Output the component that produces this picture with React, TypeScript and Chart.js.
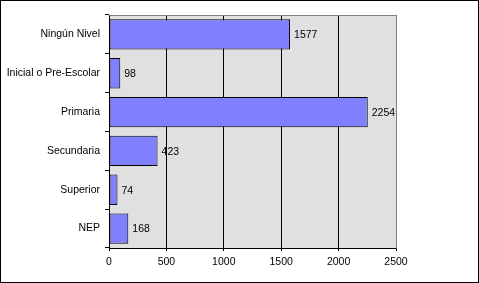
import React, { useEffect, useRef } from "react";
import { Chart, registerables } from "chart.js";

Chart.register(...registerables);

const categories = ["Ningún Nivel", "Inicial o Pre-Escolar", "Primaria", "Secundaria", "Superior", "NEP"];
const values = [1577, 98, 2254, 423, 74, 168];
const xMin = 0;
const xMax = 2500;
const xStep = 500;

const FONT = "'Liberation Sans', Arial, sans-serif";
const FSIZE = 10.5;

export default function App() {
  const ref = useRef<HTMLCanvasElement | null>(null);

  useEffect(() => {
    document.body.style.margin = "0";
    const canvas = ref.current;
    if (!canvas) return;

    const framePlugin = {
      id: "frame",
      beforeDraw(chart: any) {
        const ctx = chart.ctx;
        const a = chart.chartArea;
        ctx.save();
        ctx.fillStyle = "#ffffff";
        ctx.fillRect(0, 0, chart.width, chart.height);
        ctx.fillStyle = "#E0E0E0";
        ctx.fillRect(a.left, a.top, a.right - a.left, a.bottom - a.top);
        ctx.restore();
      },
      afterDraw(chart: any) {
        const ctx = chart.ctx;
        const a = chart.chartArea;
        ctx.save();
        ctx.strokeStyle = "#808080";
        ctx.lineWidth = 1;
        ctx.beginPath();
        ctx.moveTo(Math.round(a.left) + 0.5, Math.round(a.top) + 0.5);
        ctx.lineTo(Math.round(a.right) + 0.5, Math.round(a.top) + 0.5);
        ctx.lineTo(Math.round(a.right) + 0.5, Math.round(a.bottom) + 0.5);
        ctx.stroke();
        ctx.strokeStyle = "#000000";
        ctx.strokeRect(0.5, 0.5, chart.width - 1, chart.height - 1);
        ctx.restore();
      },
      afterDatasetsDraw(chart: any) {
        const ctx = chart.ctx;
        const meta = chart.getDatasetMeta(0);
        ctx.save();
        ctx.fillStyle = "#000000";
        ctx.font = `${FSIZE}px ${FONT}`;
        ctx.textAlign = "left";
        ctx.textBaseline = "middle";
        meta.data.forEach((bar: any, i: number) => {
          ctx.fillText(String(values[i]), bar.x + 4, bar.y + 1);
        });
        ctx.restore();
      },
    };

    const chart = new Chart(canvas, {
      type: "bar",
      data: {
        labels: categories,
        datasets: [
          {
            data: values,
            backgroundColor: "#8080FF",
            borderColor: "#000000",
            borderWidth: 1,
            borderSkipped: false,
            barPercentage: 0.78,
            categoryPercentage: 1,
          },
        ],
      },
      options: {
        indexAxis: "y",
        responsive: false,
        animation: false,
        events: [],
        layout: { padding: { left: 0, top: 15, right: 83, bottom: 0 } },
        plugins: {
          legend: { display: false },
          tooltip: { enabled: false },
          title: { display: false },
        },
        scales: {
          x: {
            type: "linear",
            min: xMin,
            max: xMax,
            ticks: {
              stepSize: xStep,
              color: "#000000",
              font: { family: FONT, size: FSIZE },
              padding: 5,
              maxRotation: 0,
              callback: (v: any) => String(v),
            },
            grid: {
              color: (c: any) => (c.tick && c.tick.value === xMax ? "#808080" : "#000000"),
              lineWidth: 1,
              drawTicks: true,
              tickLength: 3,
              tickColor: "#000000",
            },
            border: { display: true, color: "#000000", width: 1 },
            afterFit(scale: any) {
              scale.height = 35;
            },
          },
          y: {
            type: "category",
            ticks: {
              color: "#000000",
              font: { family: FONT, size: FSIZE },
              padding: 5,
            },
            grid: {
              offset: true,
              drawOnChartArea: false,
              drawTicks: true,
              tickLength: 4,
              color: "#000000",
              tickColor: "#000000",
            },
            border: { display: true, color: "#000000", width: 1 },
            afterFit(scale: any) {
              scale.width = 109;
            },
          },
        },
      },
      plugins: [framePlugin],
    } as any);

    return () => chart.destroy();
  }, []);

  return (
    <div style={{ position: "absolute", left: 0, top: 0, width: 479, height: 283 }}>
      <canvas ref={ref} width={479} height={283} style={{ display: "block", width: 479, height: 283 }} />
    </div>
  );
}
